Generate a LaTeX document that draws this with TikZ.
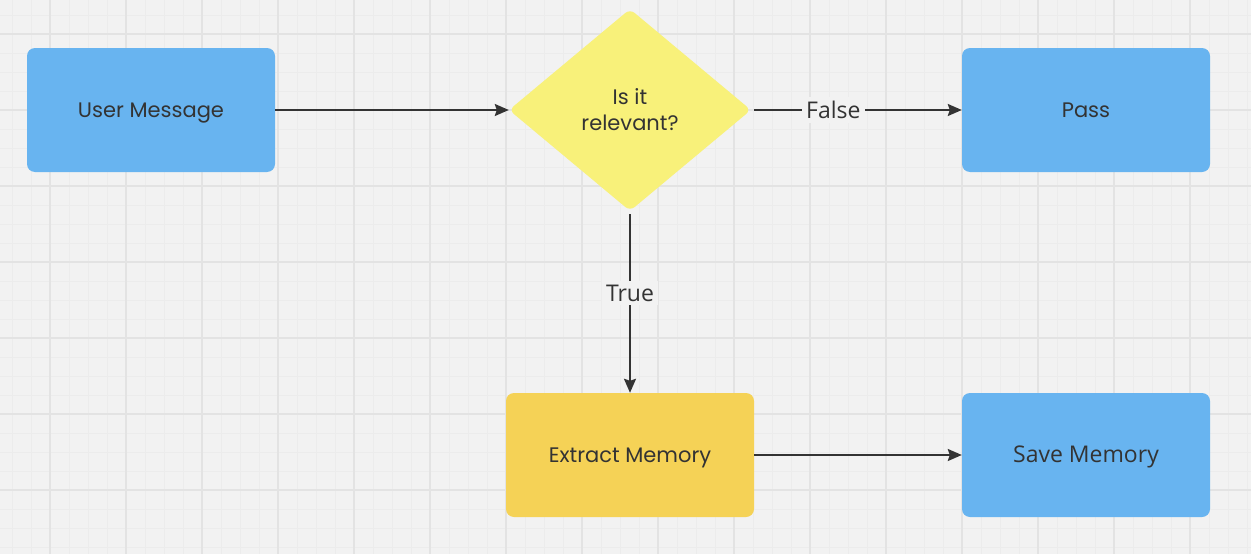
\documentclass[tikz,border=0pt]{standalone}
\usepackage{fontspec}
\newfontfamily\nodefont{Poppins}
\newfontfamily\labfont{Open Sans}
\usetikzlibrary{shapes.geometric,arrows.meta}
\definecolor{bgc}{HTML}{F2F2F2}
\definecolor{minorc}{HTML}{ECECEC}
\definecolor{majorc}{HTML}{E3E3E3}
\definecolor{bluec}{HTML}{68B4F0}
\definecolor{yelc}{HTML}{F8F17A}
\definecolor{goldc}{HTML}{F5D256}
\definecolor{inkc}{HTML}{333333}
\tikzset{
  box/.style={rectangle, rounded corners=8pt, minimum width=248pt, minimum height=124pt, inner sep=0pt, text=inkc, text height=15pt, text depth=0pt, font=\nodefont\fontsize{21}{26}\selectfont},
  bluebox/.style={box, fill=bluec},
  goldbox/.style={box, fill=goldc},
  decision/.style={diamond, fill=yelc, rounded corners=6pt, minimum width=242pt, minimum height=202pt, inner sep=0pt, text=inkc, align=center, font=\nodefont\fontsize{21}{26}\selectfont},
  conn/.style={draw=inkc, line width=2pt, -{Stealth[length=14pt,width=12pt,inset=2pt]}},
  lab/.style={fill=bgc, text=inkc, inner sep=4pt, font=\labfont\fontsize{23}{26}\selectfont},
}
\begin{document}
\begin{tikzpicture}[x=1pt,y=-1pt]
\fill[bgc] (0,0) rectangle (1251,554);
\useasboundingbox (0,0) rectangle (1251,554);
\foreach \x in {12,31,...,1251} \draw[minorc, line width=1pt] (\x,0) -- (\x,554);
\foreach \y in {15,34,...,554} \draw[minorc, line width=1pt] (0,\y) -- (1251,\y);
\foreach \x in {50,126,...,1251} \draw[majorc, line width=1.5pt] (\x,0) -- (\x,554);
\foreach \y in {34,110,...,554} \draw[majorc, line width=1.5pt] (0,\y) -- (1251,\y);

\node[bluebox] (user) at (151,110) {User Message};
\node[decision] (dec) at (630,110) {Is it\\relevant?};
\node[bluebox] (pass) at (1086,110) {Pass};
\node[goldbox] (extract) at (630,455) {Extract Memory};
\node[bluebox, font=\labfont\fontsize{23}{26}\selectfont] (save) at (1086,455) {Save Memory};

\draw[conn] (user.east) -- (dec.west);
\draw[conn, shorten <=3pt] (dec.east) -- node[lab, pos=0.39] {False} (pass.west);
\draw[conn, shorten <=3pt] (dec.south) -- node[lab, pos=0.45] {True} (extract.north);
\draw[conn] (extract.east) -- (save.west);
\end{tikzpicture}
\end{document}
